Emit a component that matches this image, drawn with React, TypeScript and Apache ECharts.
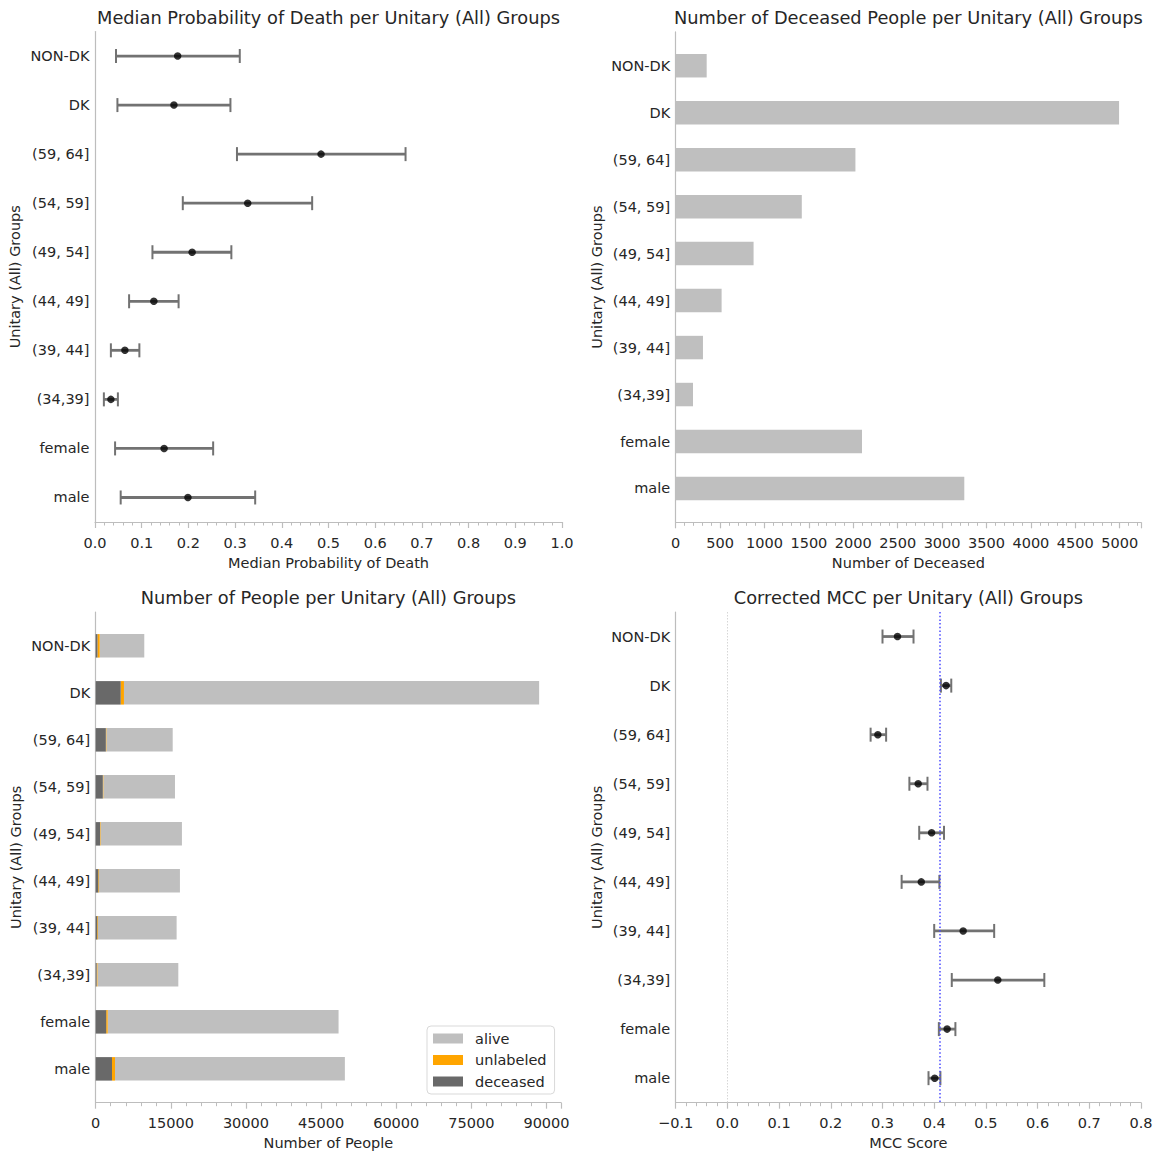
import React, { useEffect, useRef } from "react";
import * as echarts from "echarts";

// ---------- data ----------
const groups = ["NON-DK", "DK", "(59, 64]", "(54, 59]", "(49, 54]", "(44, 49]", "(39, 44]", "(34,39]", "female", "male"];

const probMedian = [0.177, 0.169, 0.484, 0.327, 0.208, 0.126, 0.064, 0.034, 0.148, 0.199];
const probLow = [0.045, 0.048, 0.304, 0.188, 0.123, 0.073, 0.034, 0.019, 0.043, 0.055];
const probHigh = [0.31, 0.29, 0.665, 0.465, 0.292, 0.179, 0.095, 0.049, 0.253, 0.343];

const deceasedCounts = [349, 4993, 2024, 1420, 877, 517, 307, 195, 2098, 3250];
const unlabeledCounts = [450, 650, 100, 100, 100, 150, 150, 150, 300, 600];
const aliveCounts = [8900, 82890, 13250, 14310, 16240, 16150, 15700, 16150, 46090, 45900];

const mccMedian = [0.329, 0.423, 0.291, 0.369, 0.395, 0.375, 0.456, 0.523, 0.425, 0.401];
const mccLow = [0.300, 0.413, 0.277, 0.352, 0.371, 0.337, 0.400, 0.434, 0.409, 0.389];
const mccHigh = [0.360, 0.433, 0.307, 0.387, 0.419, 0.410, 0.516, 0.613, 0.441, 0.412];
const mccReference = 0.414;

const titles = [
  "Median Probability of Death per Unitary (All) Groups",
  "Number of Deceased People per Unitary (All) Groups",
  "Number of People per Unitary (All) Groups",
  "Corrected MCC per Unitary (All) Groups",
];
const xNames = ["Median Probability of Death", "Number of Deceased", "Number of People", "MCC Score"];
const yName = "Unitary (All) Groups";
const legendNames = ["alive", "unlabeled", "deceased"];

// ---------- styles ----------
const FONT = "DejaVu Sans";
const TXT = "#262626";
const SPINE = "#bdbdbd";
const ERR = "#727272";
const C_ALIVE = "#bfbfbf";
const C_UNL = "#ffa500";
const C_DEC = "#696969";
const FS = 14.5;

const isMultiple = (v: number, step: number) => Math.abs(v / step - Math.round(v / step)) < 1e-6;

function xAxisCfg(gridIndex: number, min: number, max: number, interval: number, name: string, fmt: (v: number) => string) {
  return {
    type: "value",
    gridIndex,
    min,
    max,
    interval,
    name,
    nameLocation: "middle",
    nameGap: 33,
    nameTextStyle: { fontFamily: FONT, fontSize: FS, color: TXT },
    axisLine: { show: true, onZero: false, lineStyle: { color: SPINE, width: 1.2 } },
    axisTick: { show: true, length: 6, lineStyle: { color: SPINE, width: 1.2 } },
    minorTick: { show: true, splitNumber: 5, length: 3.5, lineStyle: { color: SPINE, width: 1 } },
    splitLine: { show: false },
    minorSplitLine: { show: false },
    axisLabel: {
      show: true,
      margin: 13,
      fontFamily: FONT,
      fontSize: FS,
      color: TXT,
      formatter: (v: number) => (isMultiple(v, interval) ? fmt(v) : ""),
    },
  };
}

function yAxisCfg(gridIndex: number, min: number, max: number, nameGap: number) {
  return {
    type: "value",
    gridIndex,
    min,
    max,
    inverse: true,
    name: yName,
    nameLocation: "middle",
    nameGap,
    nameRotate: 90,
    nameTextStyle: { fontFamily: FONT, fontSize: FS, color: TXT },
    axisLine: { show: true, onZero: false, lineStyle: { color: SPINE, width: 1.2 } },
    axisTick: { show: false },
    splitLine: { show: false },
    axisLabel: {
      show: true,
      customValues: groups.map((_, i) => i),
      formatter: (v: number) => groups[Math.round(v)] ?? "",
      margin: 5.5,
      fontFamily: FONT,
      fontSize: FS,
      color: TXT,
    },
  };
}

const errRender = (_params: any, api: any) => {
  const i = api.value(0);
  const lo = api.value(1);
  const hi = api.value(2);
  const a = api.coord([lo, i]);
  const b = api.coord([hi, i]);
  const c = 7;
  const capStyle = { stroke: ERR, lineWidth: 2 };
  return {
    type: "group",
    children: [
      { type: "line", shape: { x1: a[0], y1: a[1], x2: b[0], y2: b[1] }, style: { stroke: ERR, lineWidth: 2.8 } },
      { type: "line", shape: { x1: a[0], y1: a[1] - c, x2: a[0], y2: a[1] + c }, style: capStyle },
      { type: "line", shape: { x1: b[0], y1: b[1] - c, x2: b[0], y2: b[1] + c }, style: capStyle },
    ],
  };
};

const barRender = (color: string) => (_params: any, api: any) => {
  const i = api.value(0);
  const s = api.value(1);
  const e = api.value(2);
  const a = api.coord([s, i]);
  const b = api.coord([e, i]);
  const h = Math.abs(api.size([0, 0.5])[1]);
  return {
    type: "rect",
    shape: { x: a[0], y: a[1] - h / 2, width: b[0] - a[0], height: h },
    style: { fill: color },
  };
};

export default function App() {
  const ref = useRef<HTMLDivElement>(null);

  useEffect(() => {
    if (!ref.current) return;
    const chart = echarts.init(ref.current, null, { renderer: "svg" });

    const grids = [
      { left: 95, top: 31.5, width: 467, height: 490.5 },
      { left: 675.7, top: 31.9, width: 465.3, height: 490.4 },
      { left: 95.7, top: 612, width: 465.3, height: 490.7 },
      { left: 675.7, top: 612, width: 465.3, height: 490.7 },
    ].map((g) => ({ ...g, containLabel: false, outerBoundsMode: "none" }));

    const fmt1 = (v: number) => (v < 0 ? "\u2212" + Math.abs(v).toFixed(1) : v.toFixed(1));
    const fmt0 = (v: number) => String(Math.round(v));

    const xAxes = [
      xAxisCfg(0, 0, 1, 0.1, xNames[0], fmt1),
      xAxisCfg(1, 0, 5240, 500, xNames[1], fmt0),
      xAxisCfg(2, 0, 92900, 15000, xNames[2], fmt0),
      xAxisCfg(3, -0.1, 0.8, 0.1, xNames[3], fmt1),
    ];
    const yAxes = [
      yAxisCfg(0, -0.5, 9.5, 72.5),
      yAxisCfg(1, -0.72, 9.72, 71.5),
      yAxisCfg(2, -0.72, 9.72, 72.5),
      yAxisCfg(3, -0.5, 9.5, 71.5),
    ];

    const decStart = deceasedCounts.map(() => 0);
    const unlStart = deceasedCounts.map((d) => d);
    const aliveStart = deceasedCounts.map((d, i) => d + unlabeledCounts[i]);

    const series: any[] = [
      // top-left
      {
        type: "custom",
        name: "prob_err",
        xAxisIndex: 0,
        yAxisIndex: 0,
        renderItem: errRender,
        encode: { x: [1, 2], y: 0 },
        data: groups.map((_, i) => [i, probLow[i], probHigh[i]]),
        z: 2,
      },
      {
        type: "scatter",
        name: "prob_median",
        xAxisIndex: 0,
        yAxisIndex: 0,
        symbolSize: 7.5,
        itemStyle: { color: "#000" },
        data: groups.map((_, i) => [probMedian[i], i]),
        z: 3,
      },
      // top-right
      {
        type: "custom",
        name: "deceased_count",
        xAxisIndex: 1,
        yAxisIndex: 1,
        renderItem: barRender(C_ALIVE),
        encode: { x: [1, 2], y: 0 },
        data: groups.map((_, i) => [i, 0, deceasedCounts[i]]),
      },
      // bottom-left stacked
      {
        type: "custom",
        name: "alive",
        xAxisIndex: 2,
        yAxisIndex: 2,
        itemStyle: { color: C_ALIVE },
        renderItem: barRender(C_ALIVE),
        encode: { x: [1, 2], y: 0 },
        data: groups.map((_, i) => [i, aliveStart[i], aliveStart[i] + aliveCounts[i]]),
      },
      {
        type: "custom",
        name: "unlabeled",
        xAxisIndex: 2,
        yAxisIndex: 2,
        itemStyle: { color: C_UNL },
        renderItem: barRender(C_UNL),
        encode: { x: [1, 2], y: 0 },
        data: groups.map((_, i) => [i, unlStart[i], unlStart[i] + unlabeledCounts[i]]),
      },
      {
        type: "custom",
        name: "deceased",
        xAxisIndex: 2,
        yAxisIndex: 2,
        itemStyle: { color: C_DEC },
        renderItem: barRender(C_DEC),
        encode: { x: [1, 2], y: 0 },
        data: groups.map((_, i) => [i, decStart[i], deceasedCounts[i]]),
      },
      // bottom-right
      {
        type: "custom",
        name: "mcc_err",
        xAxisIndex: 3,
        yAxisIndex: 3,
        renderItem: errRender,
        encode: { x: [1, 2], y: 0 },
        data: groups.map((_, i) => [i, mccLow[i], mccHigh[i]]),
        z: 2,
      },
      {
        type: "scatter",
        name: "mcc_median",
        xAxisIndex: 3,
        yAxisIndex: 3,
        symbolSize: 7.5,
        itemStyle: { color: "#000" },
        data: groups.map((_, i) => [mccMedian[i], i]),
        z: 3,
        markLine: {
          silent: true,
          symbol: "none",
          label: { show: false },
          animation: false,
          data: [
            { xAxis: 0, lineStyle: { color: "#d6d6d6", width: 1, type: [1.5, 1.5] } },
            { xAxis: mccReference, lineStyle: { color: "#4a4aff", width: 1.5, type: [1.5, 2.2] } },
          ],
        },
      },
    ];

    const titlePos = [
      [328.5, 17],
      [908.4, 17],
      [328.4, 597],
      [908.4, 597],
    ];

    chart.setOption({
      animation: false,
      backgroundColor: "#ffffff",
      textStyle: { fontFamily: FONT },
      grid: grids,
      xAxis: xAxes,
      yAxis: yAxes,
      legend: {
        data: legendNames,
        orient: "vertical",
        left: 427,
        top: 1026,
        itemWidth: 30,
        itemHeight: 10,
        itemGap: 6.5,
        icon: "rect",
        padding: [5, 8, 5, 6],
        borderColor: "#d9d9d9",
        borderWidth: 1,
        borderRadius: 4,
        backgroundColor: "#ffffff",
        selectedMode: false,
        textStyle: { fontFamily: FONT, fontSize: FS, color: TXT, padding: [0, 0, 0, 7] },
      },
      graphic: titles.map((t, k) => ({
        type: "text",
        x: titlePos[k][0],
        y: titlePos[k][1],
        style: {
          text: t,
          fontFamily: FONT,
          fontSize: 17.8,
          fill: TXT,
          align: "center",
          verticalAlign: "middle",
        },
      })),
      series,
    });

    return () => chart.dispose();
  }, []);

  return (
    <div
      ref={ref}
      style={{ position: "fixed", left: 0, top: 0, width: 1159, height: 1156, background: "#fff" }}
    />
  );
}
